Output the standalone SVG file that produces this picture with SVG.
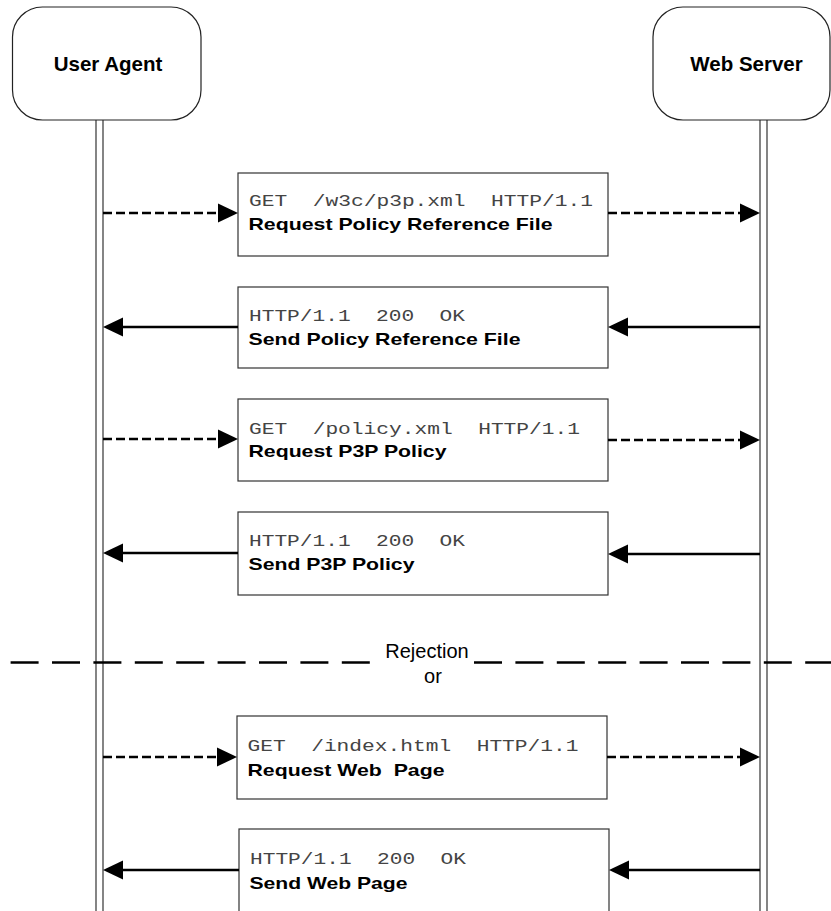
<svg xmlns="http://www.w3.org/2000/svg" width="831" height="911" viewBox="0 0 831 911">
  <style>
    .actor { fill: #ffffff; stroke: #222222; stroke-width: 1.2; }
    .actor-label { font-family: "Liberation Sans", Arial, sans-serif; font-weight: bold; font-size: 20.5px; fill: #000000; text-anchor: middle; }
    .lifeline { stroke: #333333; stroke-width: 1.2; fill: none; }
    .msg-box { fill: #ffffff; stroke: #333333; stroke-width: 1.2; }
    .proto { font-family: "Liberation Mono", "Courier New", monospace; font-size: 17px; fill: #444444; white-space: pre; }
    .desc { font-family: "Liberation Sans", Arial, sans-serif; font-weight: bold; font-size: 17px; fill: #000000; white-space: pre; }
    .req { stroke: #000000; stroke-width: 2.3; stroke-dasharray: 9 4; fill: none; marker-end: url(#head); }
    .resp { stroke: #000000; stroke-width: 2.3; fill: none; marker-end: url(#head); }
    .separator { stroke: #000000; stroke-width: 2.6; stroke-dasharray: 28 13.4; fill: none; }
    .note { font-family: "Liberation Sans", Arial, sans-serif; font-size: 20px; fill: #000000; text-anchor: middle; }
  </style>
  <defs>
    <!-- arrowhead tip sits 8px beyond the end of its line -->
    <marker id="head" viewBox="0 0 20 20" refX="12" refY="10" markerWidth="20" markerHeight="20" markerUnits="userSpaceOnUse" orient="auto">
      <path d="M0,0.5 L20,10 L0,19.5 z" fill="#000000"/>
    </marker>
  </defs>

  <rect width="831" height="911" fill="#ffffff"/>

  <!-- lifelines -->
  <g id="lifelines">
    <line class="lifeline" x1="96" y1="120" x2="96" y2="911"/>
    <line class="lifeline" x1="103" y1="120" x2="103" y2="911"/>
    <line class="lifeline" x1="760" y1="120" x2="760" y2="911"/>
    <line class="lifeline" x1="767" y1="120" x2="767" y2="911"/>
  </g>

  <!-- participants -->
  <g id="user-agent">
    <rect class="actor" x="12.5" y="7" width="188.5" height="113" rx="30" ry="30"/>
    <text class="actor-label" x="108" y="71">User Agent</text>
  </g>
  <g id="web-server">
    <rect class="actor" x="653" y="7" width="177" height="113" rx="30" ry="30"/>
    <text class="actor-label" x="746.5" y="71">Web Server</text>
  </g>

  <!-- messages -->
  <g id="msg-request-prf">
    <rect class="msg-box" x="238" y="173" width="370" height="83"/>
    <text class="proto" x="249" y="206" textLength="344" lengthAdjust="spacingAndGlyphs" xml:space="preserve">GET  /w3c/p3p.xml  HTTP/1.1</text>
    <text class="desc" x="248.5" y="230" textLength="304" lengthAdjust="spacingAndGlyphs" xml:space="preserve">Request Policy Reference File</text>
  </g>
  <g id="msg-send-prf">
    <rect class="msg-box" x="238" y="287" width="370" height="81"/>
    <text class="proto" x="249" y="321" textLength="216" lengthAdjust="spacingAndGlyphs" xml:space="preserve">HTTP/1.1  200  OK</text>
    <text class="desc" x="248.5" y="345" textLength="272" lengthAdjust="spacingAndGlyphs" xml:space="preserve">Send Policy Reference File</text>
  </g>
  <g id="msg-request-policy">
    <rect class="msg-box" x="238" y="399" width="370" height="82"/>
    <text class="proto" x="249" y="434" textLength="331" lengthAdjust="spacingAndGlyphs" xml:space="preserve">GET  /policy.xml  HTTP/1.1</text>
    <text class="desc" x="248.5" y="457" textLength="198" lengthAdjust="spacingAndGlyphs" xml:space="preserve">Request P3P Policy</text>
  </g>
  <g id="msg-send-policy">
    <rect class="msg-box" x="238" y="512" width="370" height="83"/>
    <text class="proto" x="249" y="546" textLength="216" lengthAdjust="spacingAndGlyphs" xml:space="preserve">HTTP/1.1  200  OK</text>
    <text class="desc" x="248.5" y="570" textLength="166" lengthAdjust="spacingAndGlyphs" xml:space="preserve">Send P3P Policy</text>
  </g>
  <g id="msg-request-page">
    <rect class="msg-box" x="237" y="716" width="370" height="83"/>
    <text class="proto" x="247.5" y="751" textLength="331" lengthAdjust="spacingAndGlyphs" xml:space="preserve">GET  /index.html  HTTP/1.1</text>
    <text class="desc" x="247.5" y="776" textLength="197" lengthAdjust="spacingAndGlyphs" xml:space="preserve">Request Web  Page</text>
  </g>
  <g id="msg-send-page">
    <rect class="msg-box" x="239" y="829" width="370" height="100"/>
    <text class="proto" x="250" y="864" textLength="216" lengthAdjust="spacingAndGlyphs" xml:space="preserve">HTTP/1.1  200  OK</text>
    <text class="desc" x="249.5" y="889" textLength="158" lengthAdjust="spacingAndGlyphs" xml:space="preserve">Send Web Page</text>
  </g>

  <!-- alternative outcome divider -->
  <g id="divider">
    <line class="separator" x1="10.6" y1="662.5" x2="370" y2="662.5"/>
    <line class="separator" x1="474" y1="662.5" x2="831" y2="662.5"/>
    <text class="note" x="427" y="658">Rejection</text>
    <text class="note" x="433" y="683">or</text>
  </g>

  <!-- connectors -->
  <g id="connectors">
    <line class="req" x1="103" y1="213" x2="230" y2="213"/>
    <line class="req" x1="608" y1="213" x2="752" y2="213"/>
    <line class="resp" x1="238" y1="327" x2="111" y2="327"/>
    <line class="resp" x1="760" y1="327" x2="616" y2="327"/>
    <line class="req" x1="103" y1="439" x2="230" y2="439"/>
    <line class="req" x1="608" y1="440" x2="752" y2="440"/>
    <line class="resp" x1="238" y1="553" x2="111" y2="553"/>
    <line class="resp" x1="760" y1="554" x2="616" y2="554"/>
    <line class="req" x1="103" y1="757" x2="229" y2="757"/>
    <line class="req" x1="607" y1="757" x2="752" y2="757"/>
    <line class="resp" x1="239" y1="870" x2="111" y2="870"/>
    <line class="resp" x1="760" y1="870" x2="617" y2="870"/>
  </g>
</svg>
